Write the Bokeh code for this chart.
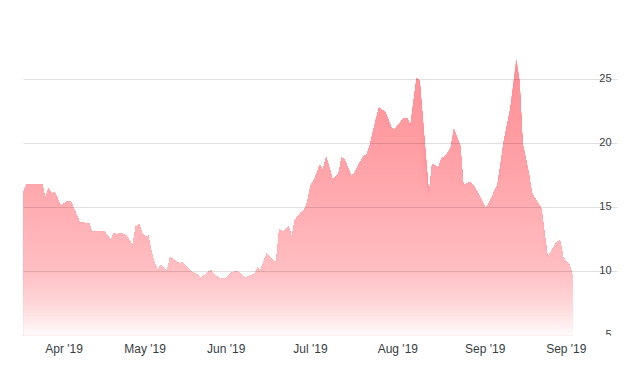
import numpy as np
import pandas as pd
from bokeh.plotting import figure
from bokeh.models import Range1d, FixedTicker, DatetimeTickFormatter, ColumnDataSource
from bokeh.embed import file_html
from bokeh.resources import INLINE
from bokeh.core.properties import value

# ---------------- data ----------------
dates = [
    "2019-04-06", "2019-04-07", "2019-04-12", "2019-04-13", "2019-04-14", "2019-04-15", "2019-04-16", "2019-04-18", "2019-04-20", "2019-04-21",
    "2019-04-22", "2019-04-24", "2019-04-27", "2019-04-28", "2019-05-02", "2019-05-04", "2019-05-05", "2019-05-06", "2019-05-07", "2019-05-09",
    "2019-05-11", "2019-05-12", "2019-05-13", "2019-05-14", "2019-05-15", "2019-05-16", "2019-05-17", "2019-05-18", "2019-05-19", "2019-05-20",
    "2019-05-22", "2019-05-23", "2019-05-25", "2019-05-26", "2019-05-27", "2019-05-29", "2019-05-30", "2019-06-01", "2019-06-02", "2019-06-04",
    "2019-06-05", "2019-06-06", "2019-06-08", "2019-06-10", "2019-06-12", "2019-06-13", "2019-06-14", "2019-06-16", "2019-06-18", "2019-06-19",
    "2019-06-20", "2019-06-21", "2019-06-23", "2019-06-24", "2019-06-26", "2019-06-27", "2019-06-28", "2019-06-29", "2019-06-30", "2019-07-01",
    "2019-07-02", "2019-07-04", "2019-07-05", "2019-07-06", "2019-07-07", "2019-07-08", "2019-07-10", "2019-07-11", "2019-07-12", "2019-07-13",
    "2019-07-14", "2019-07-16", "2019-07-17", "2019-07-18", "2019-07-20", "2019-07-21", "2019-07-22", "2019-07-24", "2019-07-25", "2019-07-26",
    "2019-07-28", "2019-07-29", "2019-07-31", "2019-08-02", "2019-08-03", "2019-08-04", "2019-08-06", "2019-08-07", "2019-08-08", "2019-08-10",
    "2019-08-11", "2019-08-14", "2019-08-15", "2019-08-17", "2019-08-18", "2019-08-19", "2019-08-20", "2019-08-21", "2019-08-22", "2019-08-24",
    "2019-08-25", "2019-08-27", "2019-08-28", "2019-08-30", "2019-09-01", "2019-09-02", "2019-09-05", "2019-09-07", "2019-09-09", "2019-09-11",
    "2019-09-12", "2019-09-13", "2019-09-15", "2019-09-16", "2019-09-19", "2019-09-21", "2019-09-22", "2019-09-24", "2019-09-25", "2019-09-26",
    "2019-09-28", "2019-09-29",
]
values = [
    16.2, 16.8, 16.8, 15.7, 16.5, 16.1, 16.2, 15.1, 15.5, 15.5,
    15.0, 13.85, 13.75, 13.1, 13.1, 12.4, 13.0, 12.9, 13.0, 12.8,
    12.0, 13.5, 13.7, 13.0, 12.7, 12.8, 11.5, 10.7, 10.1, 10.5,
    10.0, 11.1, 10.8, 10.6, 10.7, 10.2, 9.95, 9.7, 9.5, 9.9,
    10.1, 9.8, 9.4, 9.5, 9.95, 10.0, 9.95, 9.5, 9.7, 9.8,
    10.3, 10.1, 11.4, 11.1, 10.7, 13.3, 13.1, 13.25, 13.5, 12.7,
    14.0, 14.6, 14.8, 15.4, 16.7, 17.05, 18.3, 17.9, 18.9, 18.15,
    17.2, 17.6, 18.9, 18.7, 17.5, 17.6, 18.15, 19.0, 19.1, 19.8,
    21.9, 22.8, 22.45, 21.2, 21.1, 21.4, 22.0, 22.0, 21.3, 25.1,
    24.9, 15.9, 18.4, 18.1, 18.8, 19.0, 19.25, 19.7, 21.1, 19.8,
    16.7, 17.0, 16.8, 16.0, 15.0, 15.2, 16.8, 20.2, 22.6, 26.6,
    24.9, 20.0, 17.6, 16.1, 14.9, 11.1, 11.5, 12.3, 12.4, 11.1,
    10.5, 9.7,
]
x_tick_dates = ["2019-04-19", "2019-05-15", "2019-06-10", "2019-07-07", "2019-08-04", "2019-09-01", "2019-09-27"]
y_ticks = [5, 10, 15, 20, 25]
y_tick_labels = ["5", "10", "15", "20", "25"]
y_grid = [5, 10, 15, 20, 25, 30]

assert len(dates) == len(values)

x = pd.to_datetime(dates)
v = np.array(values, dtype=float)

x_start = pd.Timestamp("2019-04-06")
x_end = pd.Timestamp("2019-10-13 10:00")
y_min, y_max = 5, 30

FONT = "Liberation Sans"
TEXT_COLOR = "#373d3f"

p = figure(
    width=641, height=369,
    x_axis_type="datetime",
    x_range=Range1d(x_start, x_end),
    y_range=Range1d(y_min, y_max),
    y_axis_location=None,
    toolbar_location=None,
    output_backend="svg",
    min_border_left=23, min_border_right=24,
    min_border_top=15, min_border_bottom=34,
)
p.outline_line_color = None
p.background_fill_color = "white"
p.border_fill_color = "white"

# grid
p.xgrid.grid_line_color = None
p.ygrid.ticker = FixedTicker(ticks=y_grid)
p.ygrid.grid_line_color = "black"
p.ygrid.grid_line_alpha = 0.12
p.ygrid.level = "overlay"

# gradient area built from stacked opaque layers
base = np.array([255, 60, 72], dtype=float)
prof_v = [5, 7, 10, 15, 20, 27]
prof_a = [0.02, 0.18, 0.33, 0.42, 0.50, 0.58]
step = 0.25
levels = np.arange(y_min + step, 27.0 + step / 2, step)
for b in levels[::-1]:
    mid = b - step / 2
    a = float(np.interp(mid, prof_v, prof_a))
    col = 255 - a * (255 - base)
    hexcol = "#%02x%02x%02x" % tuple(int(round(c)) for c in col)
    top = np.minimum(v, b)
    src = ColumnDataSource(dict(x=x, y1=np.full(len(v), float(y_min)), y2=top))
    p.varea(x="x", y1="y1", y2="y2", source=src, fill_color=hexcol, fill_alpha=1.0)

# x axis
xa = p.xaxis[0]
xa.ticker = FixedTicker(ticks=[pd.Timestamp(d).value / 1e6 for d in x_tick_dates])
fmt = "%b '%y"
xa.formatter = DatetimeTickFormatter(
    microseconds=fmt, milliseconds=fmt, seconds=fmt, minsec=fmt, minutes=fmt,
    hourmin=fmt, hours=fmt, days=fmt, months=fmt, years=fmt,
)
xa.axis_line_color = None
xa.major_tick_line_color = None
xa.minor_tick_line_color = None
xa.major_tick_out = 0
xa.major_tick_in = 0
xa.major_label_standoff = 6
xa.major_label_text_font = FONT
xa.major_label_text_font_size = "12px"
xa.major_label_text_color = TEXT_COLOR

# y labels (drawn inside the frame at the right, above their grid lines)
lab_src = ColumnDataSource(dict(x=[x_end] * len(y_ticks), y=y_ticks, text=y_tick_labels))
p.text(x="x", y="y", text="text", source=lab_src,
       text_align="right", text_baseline="alphabetic",
       x_offset=-6, y_offset=-2,
       text_font=value(FONT), text_font_size="11px", text_color=TEXT_COLOR)

open("out.html", "w").write(file_html(p, INLINE))
